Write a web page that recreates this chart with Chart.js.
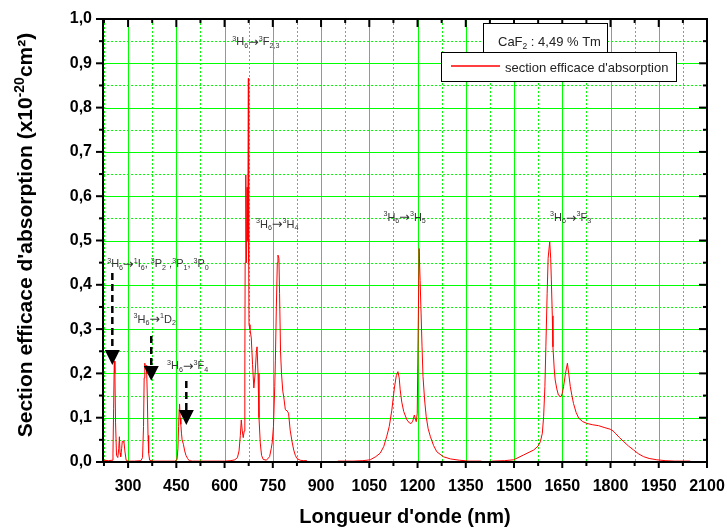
<!DOCTYPE html>
<html>
<head>
<meta charset="utf-8">
<script src="https://cdn.jsdelivr.net/npm/chart.js@4.4.1/dist/chart.umd.min.js"></script>
<style>
  body { margin: 0; background: #fff; }
  canvas { display: block; }
</style>
</head>
<body>
<canvas id="chart" width="727" height="531"></canvas>
<script>
// wavelength (nm) and absorption cross section (x10^-20 cm2), null = gap between detectors
const lambda = [222, 240, 250, 253, 255, 257, 259, 261, 264, 268, 271, 273, 275, 277, 280, 282, 285, 287, 290, 294,
  300, 320, 340, 345, 348, 350, 352, 354, 356, 358, 360, 362, 364, 367, 380, 420, 445, 452, 455, 457, 459, 460,
  462, 464, 466, 468, 472, 476, 480, 485, 490, 500, 530, 600, 620, 632, 640, 645, 649, 652, 655, 658, 661, 663,
  664, 666, 668, 670, 672, 674, 675, 676, 679, 683, 687, 691, 695, 699, 701, 704, 707, 711, 715, 720, 730, 740,
  745, 748, 752, 756, 758, 761, 764, 766, 769, 771, 774, 777, 781, 784, 789, 795, 799, 804, 810, 815, 820, 825,
  835, 845, 856, 860, 950, 952, 1000, 1030, 1053, 1070, 1084, 1095, 1104, 1112, 1120, 1128, 1134, 1139, 1143,
  1146, 1151, 1157, 1167, 1175, 1180, 1185, 1190, 1193, 1196, 1199, 1202, 1205, 1208, 1211, 1214, 1217, 1222,
  1227, 1233, 1240, 1250, 1260, 1280, 1302, 1330, 1360, 1398, 1400, 1430, 1432, 1470, 1499, 1530, 1561, 1575,
  1582, 1588, 1592, 1596, 1599, 1603, 1606, 1611, 1614, 1616, 1619, 1621, 1625, 1628, 1633, 1638, 1646, 1650,
  1654, 1660, 1666, 1670, 1675, 1680, 1685, 1693, 1701, 1714, 1727, 1745, 1763, 1780, 1799, 1808, 1815, 1828,
  1841, 1856, 1872, 1888, 1903, 1920, 1944, 1970, 2000, 2048];
const sigma = [0.004, 0.003, 0.004, 0.02, 0.12, 0.228, 0.2, 0.09, 0.015, 0.01, 0.03, 0.057, 0.02, 0.012, 0.03, 0.047, 0.045, 0.047, 0.025, 0.004,
  0.002, 0.002, 0.003, 0.01, 0.08, 0.19, 0.223, 0.21, 0.218, 0.2, 0.14, 0.06, 0.02, 0.004, 0.002, 0.002, 0.002, 0.005, 0.03, 0.08, 0.12, 0.131,
  0.10, 0.085, 0.065, 0.05, 0.04, 0.025, 0.015, 0.008, 0.003, 0.002, 0.002, 0.002, 0.003, 0.005, 0.01, 0.025, 0.06, 0.095, 0.07, 0.055, 0.07, 0.2,
  0.45, 0.648, 0.45, 0.62, 0.5, 0.866, 0.45, 0.31, 0.3, 0.28, 0.22, 0.167, 0.2, 0.25, 0.26, 0.2, 0.1, 0.043, 0.015, 0.006, 0.004, 0.012,
  0.03, 0.043, 0.08, 0.17, 0.23, 0.35, 0.45, 0.467, 0.46, 0.38, 0.25, 0.2, 0.16, 0.147, 0.118, 0.115, 0.11, 0.072, 0.045, 0.027, 0.015, 0.008,
  0.004, 0.003, 0.003, null, null, 0.002, 0.002, 0.003, 0.005, 0.012, 0.02, 0.035, 0.057, 0.08, 0.117, 0.167, 0.195, 0.204, 0.19,
  0.163, 0.135, 0.114, 0.095, 0.088, 0.087, 0.092, 0.106, 0.098, 0.091, 0.11, 0.3, 0.482, 0.41, 0.336, 0.26, 0.193, 0.14,
  0.102, 0.075, 0.057, 0.037, 0.023, 0.012, 0.007, 0.004, 0.002, 0.002, null, null, 0.002, 0.003, 0.005, 0.016, 0.027, 0.036,
  0.046, 0.065, 0.102, 0.17, 0.26, 0.38, 0.46, 0.497, 0.46, 0.411, 0.33, 0.26, 0.21, 0.185, 0.165, 0.151, 0.147, 0.155,
  0.17, 0.2, 0.223, 0.2, 0.17, 0.15, 0.132, 0.112, 0.099, 0.091, 0.087, 0.084, 0.082, 0.078, 0.074, 0.07, 0.065, 0.055,
  0.046, 0.036, 0.027, 0.018, 0.012, 0.008, 0.005, 0.003, 0.002, 0.002];

// axis ticks
const xMin = 222, xMax = 2100;
const xMajor = [300, 450, 600, 750, 900, 1050, 1200, 1350, 1500, 1650, 1800, 1950, 2100];
const xMinor = [225, 375, 525, 675, 825, 975, 1125, 1275, 1425, 1575, 1725, 1875, 2025];
const yMajor = [0, 0.1, 0.2, 0.3, 0.4, 0.5, 0.6, 0.7, 0.8, 0.9, 1.0];
const yMinor = [0.05, 0.15, 0.25, 0.35, 0.45, 0.55, 0.65, 0.75, 0.85, 0.95];

// transition labels: [wavelength, sigma, parts]  (^ = superscript, _ = subscript, > = arrow)
const transitions = [
  [624, 0.941, ['^3', 'H', '_6', '>', '^3', 'F', '_2,3']],
  [698, 0.529, ['^3', 'H', '_6', '>', '^3', 'H', '_4']],
  [1094, 0.545, ['^3', 'H', '_6', '>', '^3', 'H', '_5']],
  [1612, 0.544, ['^3', 'H', '_6', '>', '^3', 'F', '_3']],
  [235, 0.4395, ['^3', 'H', '_6', '>', '^1', 'I', '_6', ', ', '^3', 'P', '_2', ' ,', '^3', 'P', '_1', ', ', '^3', 'P', '_0']],
  [317, 0.314, ['^3', 'H', '_6', '>', '^1', 'D', '_2']],
  [421, 0.209, ['^3', 'H', '_6', '>', '^3', 'F', '_4']]
];
// dashed arrows: [wavelength, sigma start, sigma head base, sigma tip]
const arrows = [
  [251, 0.4266, 0.2528, 0.219],
  [372, 0.2844, 0.2167, 0.1835],
  [481, 0.1828, 0.1174, 0.0835]
];

const seriesName = "section efficace d'absorption";
const sampleName = ['CaF', '_2', ' : 4,49 % Tm'];

const points = lambda.map((x, i) => ({ x: x, y: sigma[i] }));
const FONT = '"Liberation Sans", Arial, sans-serif';

function richText(ctx, x, y, parts, size) {
  let cx = x;
  for (const p of parts) {
    let t = p, fs = size, dy = 0, fam = FONT;
    if (p === '>') { t = '\u2192'; fs = size * 1.15; fam = '"DejaVu Sans", sans-serif'; dy = 0.5; }
    else if (p[0] === '^') { t = p.slice(1); fs = size * 0.65; dy = -size * 0.42; }
    else if (p[0] === '_') { t = p.slice(1); fs = size * 0.65; dy = size * 0.22; }
    ctx.font = fs + 'px ' + fam;
    ctx.fillText(t, cx, y + dy);
    cx += ctx.measureText(t).width;
  }
  return cx - x;
}

function line(ctx, x1, y1, x2, y2) {
  ctx.beginPath();
  ctx.moveTo(x1, y1);
  ctx.lineTo(x2, y2);
  ctx.stroke();
}

const originFrame = {
  id: 'originFrame',
  beforeDatasetsDraw(chart) {
    const { ctx, chartArea: a, scales: { x, y } } = chart;
    ctx.save();
    ctx.lineWidth = 1;
    ctx.strokeStyle = '#00ff00';
    ctx.setLineDash([2, 2]);
    xMinor.forEach(v => { const px = Math.round(x.getPixelForValue(v)) + 0.5; line(ctx, px, a.top, px, a.bottom); });
    yMinor.forEach(v => { const py = Math.round(y.getPixelForValue(v)) + 0.5; line(ctx, a.left, py, a.right, py); });
    ctx.setLineDash([]);
    xMajor.slice(0, -1).forEach(v => { const px = Math.round(x.getPixelForValue(v)) + 0.5; line(ctx, px, a.top, px, a.bottom); });
    yMajor.slice(1, -1).forEach(v => { const py = Math.round(y.getPixelForValue(v)) + 0.5; line(ctx, a.left, py, a.right, py); });
    ctx.restore();
  },
  afterDatasetsDraw(chart) {
    const { ctx, chartArea: a, scales: { x, y } } = chart;
    ctx.save();
    ctx.strokeStyle = '#000';
    ctx.lineWidth = 2;
    // frame
    ctx.strokeRect(a.left, a.top, a.right - a.left, a.bottom - a.top);
    // ticks: outward on bottom/left, inward on top/right
    xMajor.forEach(v => { const px = x.getPixelForValue(v); line(ctx, px, a.bottom, px, a.bottom + 6); line(ctx, px, a.top, px, a.top + 8); });
    xMinor.forEach(v => { const px = x.getPixelForValue(v); line(ctx, px, a.bottom, px, a.bottom + 4); line(ctx, px, a.top, px, a.top + 4); });
    yMajor.forEach(v => { const py = y.getPixelForValue(v); line(ctx, a.left - 7, py, a.left, py); line(ctx, a.right - 8, py, a.right, py); });
    yMinor.forEach(v => { const py = y.getPixelForValue(v); line(ctx, a.left - 4, py, a.left, py); line(ctx, a.right - 4, py, a.right, py); });

    // transition labels
    ctx.fillStyle = '#333';
    ctx.textBaseline = 'alphabetic';
    ctx.textAlign = 'left';
    transitions.forEach(t => richText(ctx, x.getPixelForValue(t[0]), y.getPixelForValue(t[1]), t[2], 11));

    // dashed arrows
    ctx.fillStyle = '#000';
    arrows.forEach(r => {
      const px = x.getPixelForValue(r[0]);
      const y0 = y.getPixelForValue(r[1]), y1 = y.getPixelForValue(r[2]), y2 = y.getPixelForValue(r[3]);
      ctx.lineWidth = 2.5;
      ctx.setLineDash([7, 4]);
      line(ctx, px, y0, px, y1);
      ctx.setLineDash([]);
      ctx.beginPath();
      ctx.moveTo(px - 7.5, y1);
      ctx.lineTo(px + 7.5, y1);
      ctx.lineTo(px, y2);
      ctx.closePath();
      ctx.fill();
    });

    // legend boxes
    ctx.lineWidth = 1;
    ctx.fillStyle = '#fff';
    ctx.fillRect(483.5, 23.5, 124, 29);
    ctx.strokeRect(483.5, 23.5, 124, 29);
    ctx.fillStyle = '#222';
    richText(ctx, 498, 46, sampleName, 13);
    ctx.fillStyle = '#fff';
    ctx.fillRect(441.5, 52.5, 235, 29);
    ctx.strokeRect(441.5, 52.5, 235, 29);
    ctx.strokeStyle = '#ff0000';
    ctx.lineWidth = 1.5;
    line(ctx, 451, 66, 500, 66);
    ctx.fillStyle = '#222';
    ctx.font = '13px ' + FONT;
    ctx.fillText(seriesName, 505, 72);

    // axis titles
    ctx.fillStyle = '#000';
    ctx.font = 'bold 20px ' + FONT;
    ctx.textAlign = 'center';
    ctx.fillText("Longueur d'onde (nm)", (a.left + a.right) / 2, 523);
    ctx.textAlign = 'left';
    ctx.translate(32, 235);
    ctx.rotate(-Math.PI / 2);
    const yTitle = ["Section efficace d'absorption (x10", '^-20', 'cm\u00b2)'];
    let w = 0;
    yTitle.forEach(p => {
      ctx.font = (p[0] === '^' ? 'bold 14px ' : 'bold 21px ') + FONT;
      w += ctx.measureText(p[0] === '^' ? p.slice(1) : p).width;
    });
    let cx = -w / 2;
    yTitle.forEach(p => {
      const sup = p[0] === '^';
      const t = sup ? p.slice(1) : p;
      ctx.font = (sup ? 'bold 14px ' : 'bold 21px ') + FONT;
      ctx.fillText(t, cx, sup ? -8 : 0);
      cx += ctx.measureText(t).width;
    });
    ctx.restore();
  }
};

new Chart(document.getElementById('chart'), {
  type: 'line',
  data: {
    datasets: [{
      label: seriesName,
      data: points,
      borderColor: '#ff0000',
      borderWidth: 1,
      pointRadius: 0,
      tension: 0,
      spanGaps: false,
      fill: false
    }]
  },
  options: {
    responsive: false,
    animation: false,
    devicePixelRatio: 1,
    layout: { padding: { left: 40, top: 19, right: 20, bottom: 0 } },
    plugins: { legend: { display: false }, tooltip: { enabled: false } },
    scales: {
      x: {
        type: 'linear',
        min: xMin,
        max: xMax,
        afterBuildTicks: s => { s.ticks = xMajor.map(v => ({ value: v })); },
        afterFit: s => { s.height = 69; s.paddingLeft = 0; s.paddingRight = 0; },
        grid: { display: false, drawTicks: false },
        border: { display: false },
        ticks: {
          color: '#000',
          font: { family: FONT, size: 16, weight: 'bold' },
          padding: 15,
          maxRotation: 0,
          autoSkip: false,
          callback: v => String(v)
        }
      },
      y: {
        min: 0,
        max: 1,
        afterBuildTicks: s => { s.ticks = yMajor.map(v => ({ value: v })); },
        afterFit: s => { s.width = 63; s.paddingTop = 0; s.paddingBottom = 0; },
        grid: { display: false, drawTicks: false },
        border: { display: false },
        ticks: {
          color: '#000',
          font: { family: FONT, size: 16, weight: 'bold' },
          padding: 11,
          callback: v => v.toFixed(1).replace('.', ',')
        }
      }
    }
  },
  plugins: [originFrame]
});
</script>
</body>
</html>
